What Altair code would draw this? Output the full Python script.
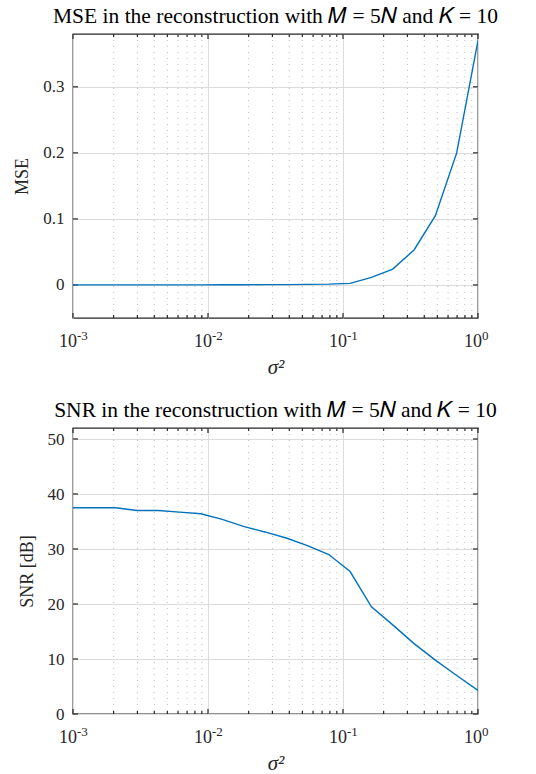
import altair as alt
import pandas as pd

# sigma^2 sample points (log-spaced 1e-3 .. 1, 20 points)
sigma2 = [0.001, 0.001438, 0.002069, 0.002976, 0.004281, 0.006158, 0.008859,
          0.01274, 0.01833, 0.02637, 0.03793, 0.05456, 0.07848, 0.1129,
          0.1624, 0.2336, 0.3360, 0.4833, 0.6952, 1.0]
mse = [0.0002, 0.0002, 0.0002, 0.0002, 0.0002, 0.0002, 0.0002, 0.0003, 0.0004,
       0.0005, 0.0006, 0.0009, 0.0013, 0.0025, 0.0116, 0.024, 0.053, 0.105,
       0.200, 0.370]
snr = [37.5, 37.5, 37.5, 37.0, 37.0, 36.7, 36.4, 35.4, 34.1, 33.1, 32.0, 30.6,
       29.0, 25.9, 19.5, 16.2, 12.8, 9.8, 7.0, 4.3]

decades = [0.001, 0.01, 0.1, 1.0]
exponents = ["-3", "-2", "-1", "0"]
minor = [0.002, 0.003, 0.004, 0.005, 0.006, 0.007, 0.008, 0.009,
         0.02, 0.03, 0.04, 0.05, 0.06, 0.07, 0.08, 0.09,
         0.2, 0.3, 0.4, 0.5, 0.6, 0.7, 0.8, 0.9]
mse_ticks = [0, 0.1, 0.2, 0.3]
snr_ticks = [0, 10, 20, 30, 40, 50]

W = 405
FONT = "Liberation Serif"
INK = "#262626"
GRID = "#dcdcdc"
LINE = "#0072BD"


def panel(yvals, ydom, yticks, ytitle, title, label_expr, H):
    xs = alt.Scale(type="log", domain=[0.001, 1.0], nice=False)
    ys = alt.Scale(domain=ydom, nice=False, zero=False)
    df = pd.DataFrame({"s": sigma2, "y": yvals})
    xax = alt.Axis(values=decades, grid=True, gridColor=GRID, gridWidth=1,
                   labels=False, ticks=False, domain=False, title="σ²",
                   titleFont=FONT, titleFontSize=21, titleFontStyle="italic",
                   titleFontWeight="normal", titleColor=INK, titlePadding=38)
    yax = alt.Axis(values=yticks, grid=True, gridColor=GRID, gridWidth=1,
                   ticks=False, domain=False, labelFont=FONT, labelFontSize=17,
                   labelColor=INK, labelPadding=9, labelExpr=label_expr,
                   title=ytitle, titleFont=FONT, titleFontSize=18,
                   titleFontWeight="normal", titleColor=INK, titlePadding=11)
    X = alt.X("s:Q", scale=xs, axis=xax)
    Y = alt.Y("y:Q", scale=ys, axis=yax)

    line = alt.Chart(df).mark_line(color=LINE, strokeWidth=1.4, clip=True).encode(
        x=X, y=Y)
    mdf = pd.DataFrame({"s": minor})
    ddf = pd.DataFrame({"s": decades, "e": exponents})
    ydf = pd.DataFrame({"y": yticks})

    mgrid = alt.Chart(mdf).mark_rule(color="#bdbdbd", strokeWidth=1,
                                     strokeDash=[1, 5]).encode(x=X)
    bt_major = alt.Chart(ddf).mark_rule(color=INK, strokeWidth=1.2).encode(
        x=X, y=alt.value(H), y2=alt.value(H - 5))
    tp_major = alt.Chart(ddf).mark_rule(color=INK, strokeWidth=1.2).encode(
        x=X, y=alt.value(0), y2=alt.value(5))
    bt_minor = alt.Chart(mdf).mark_rule(color=INK, strokeWidth=1.2).encode(
        x=X, y=alt.value(H), y2=alt.value(H - 3))
    tp_minor = alt.Chart(mdf).mark_rule(color=INK, strokeWidth=1.2).encode(
        x=X, y=alt.value(0), y2=alt.value(3))
    lt = alt.Chart(ydf).mark_rule(color=INK, strokeWidth=1.2).encode(
        y=Y, x=alt.value(0), x2=alt.value(5))
    rt = alt.Chart(ydf).mark_rule(color=INK, strokeWidth=1.2).encode(
        y=Y, x=alt.value(W), x2=alt.value(W - 5))
    base_lab = alt.Chart(ddf).mark_text(font=FONT, fontSize=18, color=INK,
                                        align="right", baseline="middle",
                                        dx=4).encode(
        x=X, y=alt.value(H + 24), text=alt.value("10"))
    exp_lab = alt.Chart(ddf).mark_text(font=FONT, fontSize=13, color=INK,
                                       align="left", baseline="middle",
                                       dx=4, dy=-6).encode(
        x=X, y=alt.value(H + 24), text="e:N")

    return alt.layer(mgrid, bt_major, tp_major, bt_minor, tp_minor,
                     lt, rt, base_lab, exp_lab, line).properties(
        width=W, height=H,
        title=alt.TitleParams(title, font=FONT, fontSize=21.5,
                              fontWeight="normal", color="black",
                              anchor="middle", offset=6),
    )


top = panel(mse, [-0.05, 0.38], mse_ticks, "MSE",
            "MSE in the reconstruction with 𝑀 = 5𝑁 and 𝐾 = 10",
            "datum.value == 0 ? '0' : format(datum.value, '.1f')", 284)
bottom = panel(snr, [0, 52], snr_ticks, "SNR [dB]",
               "SNR in the reconstruction with 𝑀 = 5𝑁 and 𝐾 = 10",
               "format(datum.value, 'd')", 286)

chart = alt.vconcat(top, bottom, spacing=21).properties(
    padding={"left": 13, "top": 5, "right": 10, "bottom": 0},
    background="white",
).configure_view(stroke=INK, strokeWidth=1.3)

chart.save("out.html", embed_options={"renderer": "svg", "actions": False})
